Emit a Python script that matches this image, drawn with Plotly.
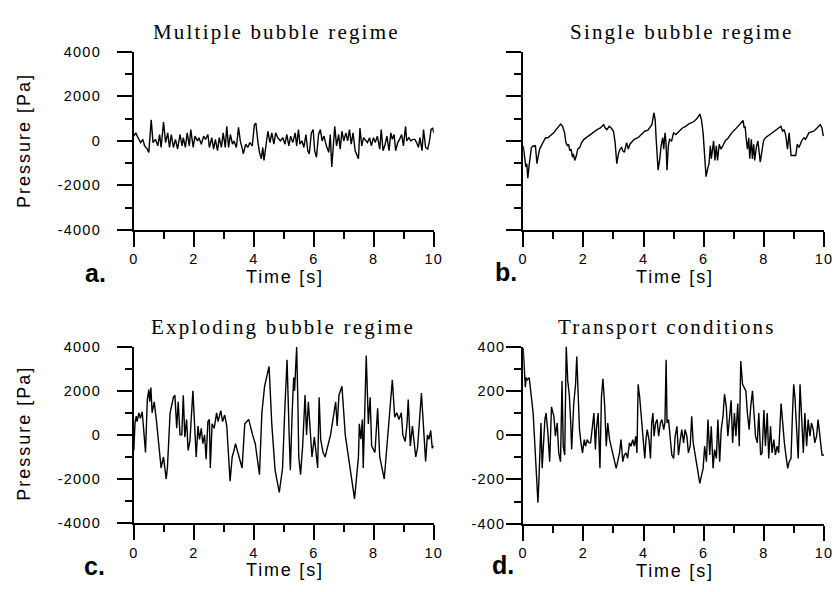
import plotly.graph_objects as go

# ---------------- data ----------------
t_a = [0.00, 0.066, 0.14, 0.23, 0.30, 0.36, 0.45, 0.50, 0.58, 0.64, 0.72, 0.80, 0.86, 0.91, 0.99,
       1.06, 1.13, 1.19, 1.25, 1.32, 1.39, 1.46, 1.54, 1.61, 1.65, 1.72, 1.78, 1.85, 1.90, 1.98,
       2.04, 2.12, 2.17, 2.25, 2.33, 2.39, 2.47, 2.52, 2.60, 2.66, 2.72, 2.79, 2.85, 2.92, 2.98,
       3.05, 3.10, 3.16, 3.22, 3.29, 3.34, 3.42, 3.49, 3.55, 3.62, 3.65, 3.73, 3.80, 3.87, 3.95,
       4.02, 4.07, 4.14, 4.19, 4.25, 4.30, 4.34, 4.40, 4.47, 4.54, 4.60, 4.67, 4.73, 4.80, 4.885,
       4.97, 5.04, 5.10, 5.17, 5.23, 5.30, 5.38, 5.43, 5.49, 5.54, 5.61, 5.67, 5.74, 5.80, 5.85,
       5.92, 5.98, 6.03, 6.09, 6.16, 6.22, 6.28, 6.34, 6.42, 6.50, 6.55, 6.60, 6.66, 6.70, 6.76,
       6.83, 6.88, 6.94, 7.00, 7.07, 7.13, 7.19, 7.25, 7.31, 7.38, 7.45, 7.49, 7.54, 7.60, 7.66,
       7.73, 7.79, 7.86, 7.92, 7.99, 8.05, 8.12, 8.20, 8.25, 8.31, 8.38, 8.44, 8.51, 8.57, 8.62,
       8.68, 8.73, 8.80, 8.86, 8.93, 8.99, 9.06, 9.10, 9.17, 9.24, 9.30, 9.37, 9.43, 9.49, 9.54,
       9.61, 9.66, 9.73, 9.80, 9.86, 9.91, 9.97, 10.0]
p_a = [211, 357, 139, -80, 66, -226, -372, -518, 940, -80, 66, -226, 284, -299, 838,
       -80, 357, -299, 284, -299, 66, -372, 284, -226, 139, -299, 357, -226, 503, -299,
       211, -7, 139, -153, 211, 66, 284, -299, 139, -372, 66, -445, 139, -299, 357,
       -299, 649, -299, 284, -153, -7, -299, 605, -7, -372, -590, -153, -299, -80, -226,
       722, 795, -80, -518, -809, -299, -882, -226, 430, -80, 357, -153, 357, 139, -7,
       139, -153, 284, -226, 211, -80, 357, -226, 503, -153, -7, -299, 284, -445, -590,
       357, 503, -445, -736, 284, 503, -7, 211, -226, -518, 284, -1174, -153, 649, -226,
       284, -372, 430, -7, 357, -7, 503, -153, 357, -445, -663, -809, 576, -226, 139,
       -7, -80, 139, -226, 139, -80, 211, -372, 503, -445, -153, 211, -445, 357, 66,
       284, -445, -80, 66, 284, -226, 649, -7, 139, -7, 66, 66, -80, -299, 139,
       -445, 503, -299, -372, -7, 503, 576, 357]

t_b = [0.0, 0.044, 0.087, 0.12, 0.153, 0.196, 0.229, 0.273, 0.327, 0.371, 0.404, 0.458, 0.502,
       0.546, 0.60, 0.676, 0.742, 0.818, 0.927, 1.015, 1.091, 1.178, 1.244, 1.309, 1.375, 1.418,
       1.473, 1.506, 1.549, 1.593, 1.637, 1.669, 1.713, 1.768, 1.811, 1.877, 1.942, 2.019, 2.128,
       2.237, 2.346, 2.455, 2.564, 2.673, 2.728, 2.782, 2.859, 2.924, 3.0, 3.055, 3.11, 3.164,
       3.219, 3.273, 3.306, 3.36, 3.437, 3.492, 3.546, 3.60, 3.688, 3.819, 3.928, 4.037, 4.146,
       4.233, 4.277, 4.343, 4.386, 4.419, 4.452, 4.484, 4.539, 4.583, 4.637, 4.67, 4.714, 4.746,
       4.779, 4.823, 4.866, 4.932, 4.997, 5.074, 5.183, 5.292, 5.401, 5.51, 5.674, 5.783, 5.87,
       5.925, 5.979, 6.034, 6.077, 6.132, 6.176, 6.219, 6.252, 6.328, 6.372, 6.416, 6.459, 6.514,
       6.568, 6.634, 6.71, 6.82, 6.929, 7.038, 7.147, 7.256, 7.31, 7.343, 7.376, 7.419, 7.452,
       7.496, 7.529, 7.583, 7.616, 7.66, 7.692, 7.747, 7.801, 7.878, 7.932, 7.987, 8.052, 8.183,
       8.347, 8.489, 8.565, 8.62, 8.674, 8.729, 8.783, 8.838, 8.903, 9.056, 9.11, 9.165, 9.252,
       9.329, 9.384, 9.493, 9.656, 9.765, 9.874, 9.929, 9.973]
p_b = [-226, -736, -1174, -1028, -1684, -1101, -736, -299, -226, -255, -197, -1028, -663,
       -372, -226, -7, 139, 139, 241, 357, 503, 649, 751, 649, 357, -80,
       -226, -153, -445, -372, -736, -590, -882, -663, -372, -299, -80, 66, 182,
       284, 386, 503, 576, 722, 576, 503, 649, 576, 430, -80, -1028, -590,
       -372, -299, -445, -518, -80, -372, -153, -80, 66, 139, 284, 430, 474,
       649, 722, 1261, 940, 66, -663, -1320, -809, -226, 139, -372, 357, -80,
       -1320, -226, 66, -7, 357, 284, 430, 576, 649, 765, 867, 1013, 1203,
       940, 357, -736, -1611, -1247, -1028, -226, -809, -7, -882, -226, -882, -153,
       -372, -226, -7, 139, 357, 503, 649, 795, 911, 576, 649, -7, -372,
       139, -809, 66, -809, -153, -882, -299, -7, -955, -372, -7, 139, 284,
       430, 576, 649, 430, 503, 211, -372, 357, -663, -663, -153, -299, -7,
       139, 66, 357, 430, 576, 722, 576, 211]

t_c = [0.00, 0.04, 0.08, 0.11, 0.17, 0.22, 0.28, 0.33, 0.39, 0.45, 0.50, 0.53, 0.57, 0.61, 0.68,
       0.75, 0.84, 0.91, 0.99, 1.08, 1.12, 1.21, 1.32, 1.37, 1.43, 1.48, 1.54, 1.60, 1.65, 1.70,
       1.76, 1.81, 1.87, 1.97, 2.08, 2.14, 2.19, 2.25, 2.30, 2.36, 2.41, 2.47, 2.52, 2.55, 2.61,
       2.68, 2.76, 2.81, 2.90, 2.96, 3.03, 3.10, 3.21, 3.28, 3.34, 3.39, 3.47, 3.61, 3.70, 3.83,
       3.96, 4.05, 4.19, 4.27, 4.36, 4.51, 4.60, 4.65, 4.71, 4.85, 4.96, 5.03, 5.11, 5.18, 5.22,
       5.28, 5.33, 5.36, 5.43, 5.47, 5.50, 5.56, 5.63, 5.71, 5.76, 5.82, 5.94, 6.02, 6.13, 6.18,
       6.23, 6.31, 6.38, 6.45, 6.56, 6.73, 6.78, 6.84, 6.94, 7.05, 7.22, 7.36, 7.49, 7.52, 7.57,
       7.62, 7.65, 7.71, 7.75, 7.82, 7.88, 7.93, 8.04, 8.13, 8.20, 8.35, 8.40, 8.48, 8.56, 8.62,
       8.70, 8.77, 8.84, 8.92, 8.97, 9.05, 9.11, 9.15, 9.22, 9.29, 9.40, 9.46, 9.59, 9.68, 9.73,
       9.79, 9.84, 9.90, 9.95, 10.0]
p_c = [-700, 550, 850, 600, 1000, 750, 1050, 100, -800, 1600, 2050, 1500, 2150, 1000, 1500,
       700, -600, -1500, -1000, -2000, -1500, 1000, 1700, 1800, 300, 1500, 0, 0, 1800, -100,
       700, -700, -300, 2000, -1000, 400, -200, 300, -400, 0, -1100, 600, 700, -1500, 500,
       300, 1000, 600, 1100, 600, 900, 400, -2100, -1000, -700, -400, -800, -1500, 500, 700,
       0, -400, -1800, 1000, 2200, 3100, 500, -300, -1600, -2600, -1500, 1000, 3400, 0, -1600,
       1000, 2600, 2000, 3980, 1500, -1000, -1800, -500, 1800, 0, 1500, -1000, -100, -1500, 1700,
       -200, -800, -1000, -600, 0, 1500, 400, 1800, 2200, 0, -1500, -2900, -1000, 500, -200,
       700, -1500, 1200, 3600, 500, 1700, -500, -800, 1200, -1000, -2000, -1200, 0, 1200, 2500,
       800, 1000, 700, 1000, 0, -300, 500, 1600, -500, 400, -1000, -600, 1900, -300, -1200,
       0, -200, 200, -600, -500]

t_d = [0.00, 0.03, 0.07, 0.10, 0.14, 0.20, 0.25, 0.33, 0.39, 0.45, 0.49, 0.52, 0.55, 0.59, 0.63,
       0.68, 0.72, 0.76, 0.82, 0.88, 0.94, 0.98, 1.02, 1.07, 1.13, 1.18, 1.24, 1.29, 1.33, 1.38,
       1.43, 1.48, 1.53, 1.58, 1.61, 1.68, 1.74, 1.78, 1.82, 1.87, 1.92, 1.97, 2.03, 2.07, 2.13,
       2.18, 2.24, 2.29, 2.35, 2.40, 2.43, 2.49, 2.55, 2.60, 2.65, 2.71, 2.76, 2.81, 2.87, 2.92,
       2.98, 3.03, 3.09, 3.14, 3.20, 3.25, 3.31, 3.36, 3.42, 3.47, 3.53, 3.58, 3.64, 3.69, 3.74,
       3.78, 3.82, 3.87, 3.93, 3.98, 4.04, 4.08, 4.12, 4.18, 4.23, 4.27, 4.31, 4.35, 4.40, 4.45,
       4.50, 4.56, 4.61, 4.67, 4.71, 4.75, 4.78, 4.83, 4.89, 4.94, 5.00, 5.05, 5.11, 5.16, 5.22,
       5.27, 5.33, 5.38, 5.44, 5.49, 5.55, 5.60, 5.65, 5.71, 5.76, 5.82, 5.87, 5.93, 5.98, 6.03,
       6.09, 6.14, 6.20, 6.25, 6.31, 6.36, 6.42, 6.47, 6.53, 6.58, 6.64, 6.69, 6.75, 6.80, 6.85,
       6.91, 6.96, 7.02, 7.07, 7.13, 7.18, 7.23, 7.29, 7.34, 7.40, 7.45, 7.51, 7.56, 7.62, 7.67,
       7.72, 7.78, 7.83, 7.89, 7.94, 8.00, 8.05, 8.11, 8.16, 8.22, 8.27, 8.33, 8.38, 8.44, 8.49,
       8.57, 8.62, 8.68, 8.73, 8.79, 8.84, 8.90, 8.95, 8.99, 9.03, 9.09, 9.14, 9.20, 9.25, 9.31,
       9.36, 9.42, 9.47, 9.53, 9.58, 9.64, 9.69, 9.75, 9.80, 9.86, 9.93, 10.0]
p_d = [392, 290, 216, 260, 250, 260, 200, 100, -50, -210, -305, -210, -80, 55, -150,
       -35, 70, 100, 10, -120, 128, 105, 85, -5, 55, -80, -120, 245, -50, -90,
       400, 245, 185, 55, -65, 143, 230, 355, 172, 25, -35, -80, -20, -50, -20,
       -35, -35, 25, 100, -65, 25, 100, -150, 172, 255, 128, -50, 55, -20, -50,
       -90, -120, -150, -120, -80, -20, -120, -90, -80, -105, -35, -50, -20, -50, -5,
       -80, 230, 172, 85, -5, -105, -20, 25, -20, -105, 55, 100, -5, 55, 70,
       -5, 55, 70, 25, 55, 340, 55, 70, -20, -90, -105, -5, 40, -90, -20,
       25, -35, 25, -5, -80, -50, 85, -35, -90, -120, -180, -218, -180, -150, -50,
       -120, 70, -90, 40, -150, -65, -105, 70, -120, 25, 85, 185, 128, -5, 55,
       157, -35, 100, -5, 143, -50, 335, 230, 216, 200, 100, 25, 128, 200, 100,
       -5, -35, 100, -90, -80, 113, -50, 100, -105, 40, -80, -20, -90, -50, -80,
       143, 55, -35, -90, -150, -120, -105, 100, 230, 172, -20, -105, 230, 55, -80,
       100, -50, 70, -5, 55, 25, -35, -5, 70, -5, -90, -90]

titles = ["Multiple bubble regime", "Single bubble regime",
          "Exploding bubble regime", "Transport conditions"]
panel_letters = ["a.", "b.", "c.", "d."]
x_title = "Time [s]"
y_title = "Pressure [Pa]"
x_tickvals = [0, 2, 4, 6, 8, 10]
x_ticktext = ["0", "2", "4", "6", "8", "10"]
y_tickvals_big = [-4000, -2000, 0, 2000, 4000]
y_ticktext_big = ["-4000", "-2000", "0", "2000", "4000"]
y_tickvals_small = [-400, -200, 0, 200, 400]
y_ticktext_small = ["-400", "-200", "0", "200", "400"]

# ---------------- layout helpers ----------------
W, H = 839, 592


def fx(px):
    return px / W


def fy(py):
    return 1 - py / H


def spaced(s, ls):
    return '<span style="letter-spacing:%spx">%s</span>' % (ls, s)


SANS = "Liberation Sans, Arial, sans-serif"
SERIF = "Liberation Serif, Times New Roman, serif"

fig = go.Figure()
series = [(t_a, p_a), (t_b, p_b), (t_c, p_c), (t_d, p_d)]
axis_ids = [("x", "y"), ("x2", "y2"), ("x3", "y3"), ("x4", "y4")]
for (tx, py_), (xa, ya) in zip(series, axis_ids):
    fig.add_trace(go.Scatter(x=tx, y=py_, mode="lines", xaxis=xa, yaxis=ya,
                             line=dict(color="black", width=1.4), showlegend=False,
                             hoverinfo="skip"))

# pixel boxes: (left, right, top, bottom)
boxes = [(131, 436, 45, 228), (527, 833, 45, 228),
         (131, 436, 348, 529.5), (527, 833, 348, 530)]
yranges = [(-4000, 4000), (-4000, 4000), (-4000, 4000), (-400, 400)]
ytv = [y_tickvals_big, y_tickvals_big, y_tickvals_big, y_tickvals_small]
ytt = [y_ticktext_big, y_ticktext_big, y_ticktext_big, y_ticktext_small]
yminor = [1000, 1000, 1000, 100]
show_ylabels = [True, False, True, True]
ystand = [13, 13, 13, -2]

tickfont = dict(family=SANS, size=14.5, color="black")
for i, ((l, r, t, b), yr) in enumerate(zip(boxes, yranges)):
    n = "" if i == 0 else str(i + 1)
    common = dict(showline=True, linewidth=2, linecolor="black", showgrid=False,
                  zeroline=False, ticks="outside", ticklen=15, tickwidth=2,
                  tickcolor="black", tickfont=tickfont, tickmode="array")
    fig.update_layout(**{
        "xaxis" + n: dict(domain=[fx(l), fx(r)], range=[0, 10], anchor="y" + n,
                          tickvals=x_tickvals,
                          ticktext=[spaced(s, 1.2) for s in x_ticktext],
                          ticklabelstandoff=0,
                          minor=dict(ticks="outside", ticklen=7, tickwidth=2,
                                     tickcolor="black", tick0=0, dtick=1, showgrid=False),
                          **common),
        "yaxis" + n: dict(domain=[fy(b), fy(t)], range=list(yr), anchor="x" + n,
                          tickvals=ytv[i], ticktext=[spaced(s, 1.2) for s in ytt[i]],
                          showticklabels=show_ylabels[i],
                          ticklabelstandoff=ystand[i],
                          minor=dict(ticks="outside", ticklen=7, tickwidth=2,
                                     tickcolor="black", tick0=0, dtick=yminor[i],
                                     showgrid=False),
                          **common),
    })

annotations = []
# panel titles (serif, letter-spaced)
title_pos = [(276, 25), (688, 25), (283, 328), (673, 328)]
for txt, (x, y) in zip(titles, title_pos):
    annotations.append(dict(text=spaced(txt, 2.2),
                            x=fx(x), y=fy(y), xref="paper", yref="paper",
                            xanchor="center", yanchor="middle", showarrow=False,
                            font=dict(family=SERIF, size=21, color="black")))
# x axis titles
xt_pos = [(285, 276.5), (681, 276.5), (285, 578), (681, 578.5)]
for (x, y) in xt_pos:
    annotations.append(dict(text=spaced(x_title, 1.8),
                            x=fx(x), y=fy(y), xref="paper", yref="paper",
                            xanchor="center", yanchor="middle", showarrow=False,
                            font=dict(family=SANS, size=18, color="black")))
# y axis titles
for y in (136, 437):
    annotations.append(dict(text=spaced(y_title, 2),
                            x=fx(20), y=fy(y), xref="paper", yref="paper",
                            xanchor="center", yanchor="middle", showarrow=False,
                            textangle=-90,
                            font=dict(family=SANS, size=18, color="black")))
# panel letters
let_pos = [(92, 272), (509, 271), (91, 573.5), (506, 572.5)]
for txt, (x, y) in zip(panel_letters, let_pos):
    annotations.append(dict(text="<b>%s</b>" % txt, x=fx(x), y=fy(y),
                            xref="paper", yref="paper", xanchor="center",
                            yanchor="middle", showarrow=False,
                            font=dict(family=SANS, size=25, color="black")))

fig.update_layout(width=W, height=H, margin=dict(l=0, r=0, t=0, b=0),
                  paper_bgcolor="white", plot_bgcolor="white",
                  annotations=annotations, showlegend=False)

fig.write_html("out.html")
